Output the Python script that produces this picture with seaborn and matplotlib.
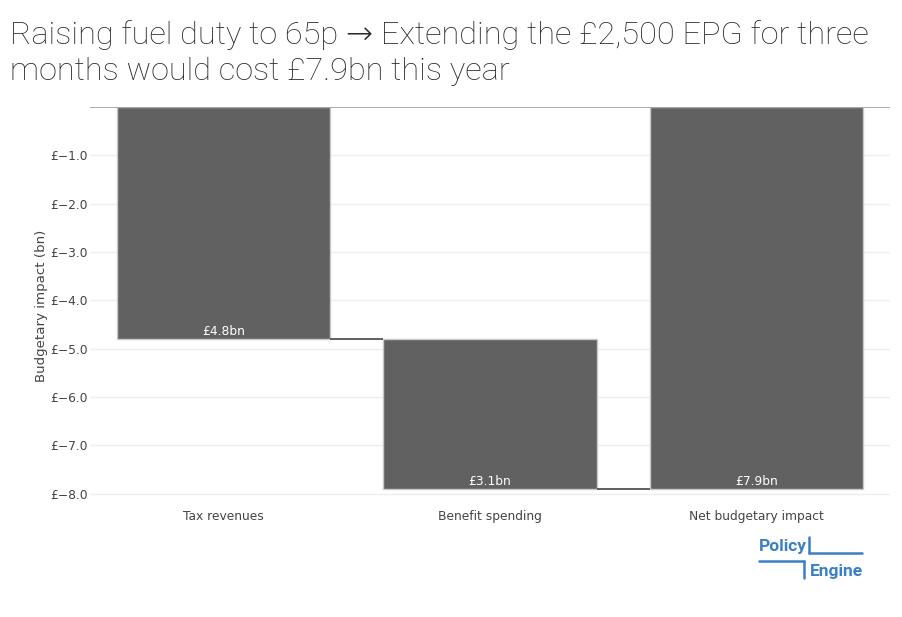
import matplotlib
matplotlib.use("Agg")
import matplotlib.pyplot as plt
from matplotlib.ticker import FuncFormatter, FixedLocator
import seaborn as sns
import pandas as pd
import numpy as np
import logging
logging.getLogger("matplotlib.font_manager").setLevel(logging.ERROR)

# ---- data ----
categories = ["Tax revenues", "Benefit spending", "Net budgetary impact"]
component_values = [-4.8, -3.1]          # tax revenues, benefit spending (bn)
net_value = -7.9                          # net budgetary impact (bn)
bar_labels = ["£4.8bn", "£3.1bn", "£7.9bn"]
y_ticks = [-1.0, -2.0, -3.0, -4.0, -5.0, -6.0, -7.0, -8.0]
title = "Raising fuel duty to 65p \u2192 Extending the £2,500 EPG for three\nmonths would cost £7.9bn this year"

heights = component_values + [net_value]
bottoms = [0.0, component_values[0], 0.0]
df = pd.DataFrame({"category": categories, "height": heights})

sns.set_theme(style="white")
plt.rcParams["font.family"] = ["DejaVu Sans"]

fig = plt.figure(figsize=(9.03, 6.17), dpi=100)
ax = fig.add_axes([0.0997, 0.196, 0.8859, 0.6304])

sns.barplot(data=df, x="category", y="height", order=categories, color="#616161",
            saturation=1, width=0.8, ax=ax, bottom=bottoms,
            edgecolor="#c8c8c8", linewidth=1.0, zorder=2)

ax.set_xlim(-0.5, 2.5)
ax.set_ylim(-8.05, 0)
ax.yaxis.set_major_locator(FixedLocator(y_ticks))
ax.yaxis.set_major_formatter(FuncFormatter(lambda v, p: ("£%.1f" % v).replace("-", "\u2212")))
ax.grid(axis="y", color="#eeeeee", linewidth=1, zorder=0)
ax.set_axisbelow(True)
for s in ax.spines.values():
    s.set_visible(False)
ax.axhline(0, color="#9e9e9e", linewidth=1.2, zorder=3)
ax.tick_params(axis="both", length=0, labelsize=8.8, colors="#444444")
ax.tick_params(axis="y", pad=1.5)
ax.tick_params(axis="x", pad=10)
ax.set_xlabel("")
ax.set_ylabel("Budgetary impact (bn)", fontsize=9.6, color="#444444")
ax.yaxis.set_label_coords(-0.053, 0.488)

# connectors
patches = ax.patches
ends = [b + h for b, h in zip(bottoms, heights)]
for i in range(len(patches) - 1):
    p0, p1 = patches[i], patches[i + 1]
    ax.hlines(ends[i], p0.get_x() + p0.get_width(), p1.get_x(),
              color="#444444", linewidth=1.2, zorder=3)

ax.bar_label(ax.containers[0], labels=bar_labels, label_type="edge", padding=-10,
             color="white", fontsize=8.8)

fig.text(0.011, 1 - 20 / 617, title, fontsize=23.4, family=["Roboto", "DejaVu Sans"],
         fontweight="light", color="#2b2b2b", va="top", ha="left", linespacing=1.3)

# logo
blue = "#3b7fc4"
logo_font = ["Roboto"]
fig.text(759 / 903, 1 - 551 / 617, "Policy", fontsize=12.5, family=logo_font,
         fontweight="bold", color=blue, va="baseline", ha="left")
fig.text(863 / 903, 1 - 576 / 617, "Engine", fontsize=12.5, family=logo_font,
         fontweight="bold", color=blue, va="baseline", ha="right")
lw = 1.8
fig.add_artist(plt.Line2D([809 / 903, 809 / 903], [1 - 537 / 617, 1 - 553 / 617], color=blue, lw=lw))
fig.add_artist(plt.Line2D([809 / 903, 862 / 903], [1 - 553 / 617, 1 - 553 / 617], color=blue, lw=lw))
fig.add_artist(plt.Line2D([759 / 903, 804 / 903], [1 - 561 / 617, 1 - 561 / 617], color=blue, lw=lw))
fig.add_artist(plt.Line2D([804 / 903, 804 / 903], [1 - 561 / 617, 1 - 578 / 617], color=blue, lw=lw))

fig.savefig("out.png", dpi=100, facecolor="white")
